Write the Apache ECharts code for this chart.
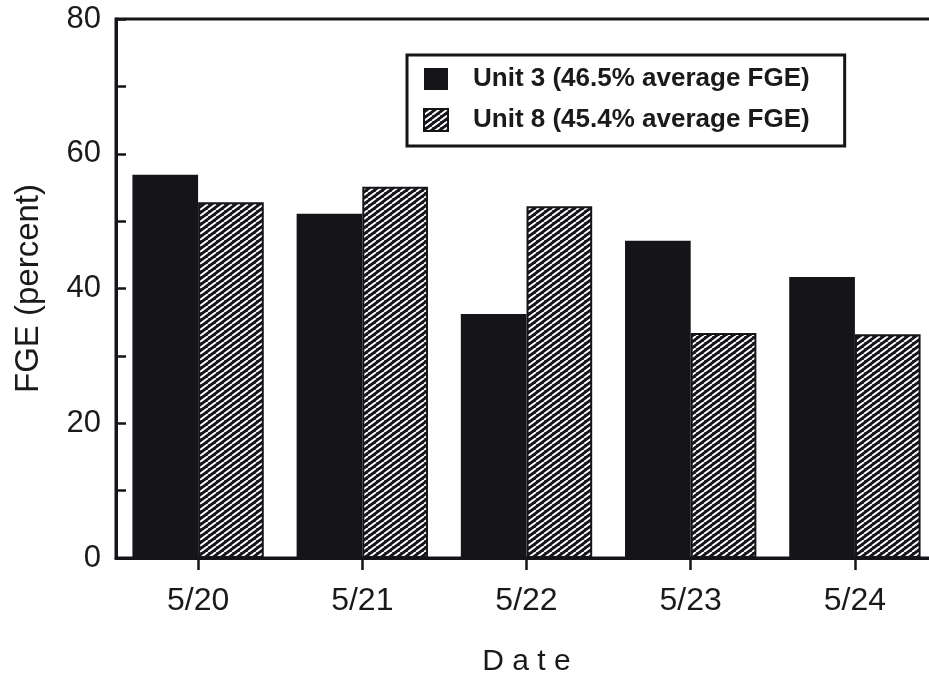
<!DOCTYPE html>
<html>
<head>
<meta charset="utf-8">
<script src="https://cdn.jsdelivr.net/npm/echarts@6/dist/echarts.min.js"></script>
<style>html,body{margin:0;padding:0;background:#fff;}#c{width:929px;height:677px;}</style>
</head>
<body>
<div id="c"></div>
<script>
const categories = ['5/20', '5/21', '5/22', '5/23', '5/24'];
const unit3 = [56.9, 51.1, 36.2, 47.1, 41.7];
const unit8 = [52.8, 55.1, 52.2, 33.4, 33.2];
const seriesNames = ['Unit 3 (46.5% average FGE)', 'Unit 8 (45.4% average FGE)'];
const yTicks = [0, 20, 40, 60, 80];

const FONT = '"Liberation Sans", Arial, Helvetica, sans-serif';
const INK = '#151418';

function hatch() {
  const w = 8, h = 6;
  const c = document.createElement('canvas');
  c.width = w; c.height = h;
  const g = c.getContext('2d');
  g.fillStyle = INK;
  g.fillRect(0, 0, w, h);
  g.strokeStyle = '#ffffff';
  g.lineWidth = 1.9;
  g.beginPath();
  for (let k = -1; k <= 1; k++) {
    g.moveTo(k * w, h); g.lineTo(k * w + w, 0);
  }
  g.stroke();
  return c;
}

const chart = echarts.init(document.getElementById('c'), null, {renderer: 'canvas'});
chart.setOption({
  backgroundColor: '#ffffff',
  animation: false,
  grid: {
    left: 116, top: 19, width: 821, height: 539,
    outerBoundsMode: 'none', containLabel: false,
    show: true, borderColor: INK, borderWidth: 3, backgroundColor: 'transparent'
  },
  legend: {
    orient: 'vertical',
    left: 407, top: 55,
    padding: [11, 35, 13, 16],
    itemGap: 15,
    itemWidth: 24, itemHeight: 22,
    icon: 'rect',
    selectedMode: false,
    borderColor: INK, borderWidth: 3,
    backgroundColor: '#fff',
    textStyle: {fontFamily: FONT, fontSize: 26, fontWeight: 'bold', color: '#1a1a1a', padding: [0, 0, 0, 20]},
    data: seriesNames
  },
  xAxis: {
    type: 'category',
    data: categories,
    name: 'D a t e',
    nameLocation: 'middle',
    nameGap: 89,
    nameTextStyle: {fontFamily: FONT, fontSize: 30, color: '#1a1a1a'},
    axisLine: {lineStyle: {color: INK, width: 3}},
    axisTick: {show: true, alignWithLabel: true, length: 12, lineStyle: {color: INK, width: 2.5}},
    axisLabel: {fontFamily: FONT, fontSize: 32, color: '#1a1a1a', margin: 27}
  },
  yAxis: {
    type: 'value',
    min: 0, max: 80, interval: 10,
    name: 'FGE (percent)',
    nameLocation: 'middle',
    nameGap: 71,
    nameTextStyle: {fontFamily: FONT, fontSize: 33, color: '#1a1a1a'},
    axisLine: {show: true, lineStyle: {color: INK, width: 3}},
    axisTick: {show: true, inside: true, length: 10, lineStyle: {color: INK, width: 2.5}},
    axisLabel: {
      fontFamily: FONT, fontSize: 31, color: '#1a1a1a', margin: 15,
      formatter: function (v) { return yTicks.indexOf(v) >= 0 ? String(v) : ''; }
    },
    splitLine: {show: false}
  },
  series: [
    {
      name: seriesNames[0], type: 'bar', data: unit3,
      barGap: '0%', barCategoryGap: '20%',
      itemStyle: {color: INK}
    },
    {
      name: seriesNames[1], type: 'bar', data: unit8,
      barGap: '0%', barCategoryGap: '20%',
      itemStyle: {color: {image: hatch(), repeat: 'repeat'}, borderColor: INK, borderWidth: 2}
    }
  ]
});
</script>
</body>
</html>
